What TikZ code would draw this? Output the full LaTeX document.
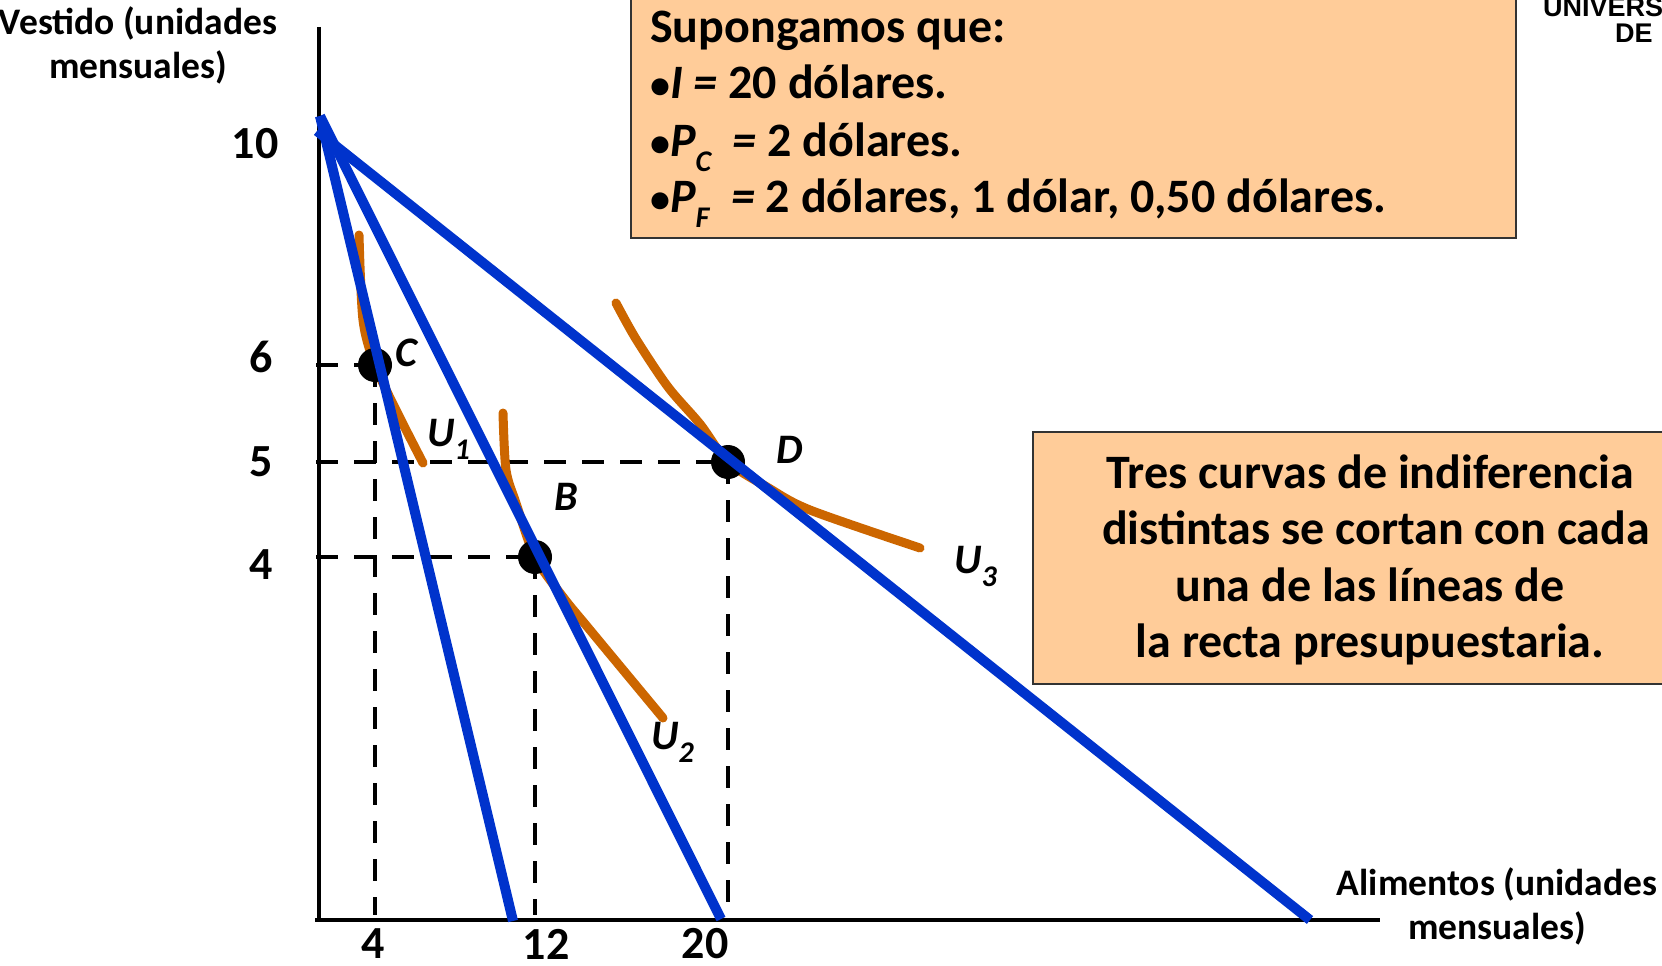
\documentclass[tikz,border=0pt]{standalone}
\usepackage{fontspec}
\setmainfont{Carlito}
\newfontfamily\logofont{Liberation Sans}
\definecolor{bblue}{HTML}{0033CC}
\definecolor{uorange}{HTML}{CC6600}
\definecolor{peach}{HTML}{FFCC99}
\newcommand\lowsub[1]{\raisebox{-0.32em}{\fontsize{30}{30}\selectfont #1}}
\newcommand\bul{{\fontsize{40}{40}\selectfont •}}
\begin{document}
\begin{tikzpicture}[x=1pt,y=-1pt,
  axisline/.style={line width=4.5pt},
  guide/.style={line width=4.5pt,dash pattern=on 22pt off 16pt},
  budget/.style={bblue,line width=10pt},
  icurve/.style={uorange,line width=9pt,line cap=round},
  dotpt/.style={circle,fill=black,minimum size=34pt,inner sep=0pt},
  ticklbl/.style={font=\fontsize{46}{55}\selectfont\bfseries,inner sep=0pt},
  ptlbl/.style={font=\fontsize{42}{50}\selectfont\bfseries\itshape,inner sep=0pt},
  axlbl/.style={font=\fontsize{37.5}{44}\selectfont\bfseries,align=center,inner sep=0pt},
  boxtext/.style={font=\fontsize{48}{57}\selectfont\bfseries,inner sep=0pt},
  logotext/.style={anchor=base west,inner sep=0pt,font=\logofont\bfseries\fontsize{27}{30}\selectfont},
  infobox/.style={draw=black!80,line width=2pt,fill=peach}
]
\useasboundingbox (0,0) rectangle (1662,966);
\clip (0,0) rectangle (1662,966);

% info boxes
\draw[infobox] (631,-5) rectangle (1516,238);
\draw[infobox] (1033,432) rectangle (1700,684);

% named points
\coordinate (O) at (319,920);
\coordinate (Ytop) at (319,27);
\coordinate (Xend) at (1380,920);
\coordinate (Xstart) at (315,920);
\coordinate (C) at (375,365);
\coordinate (B) at (535,557);
\coordinate (D) at (728,462);
\coordinate (topA) at (320,116);
\coordinate (topB) at (317,131);
\coordinate (end1) at (513,921);
\coordinate (end2) at (721,919);
\coordinate (end3) at (1310,920);

% axes
\draw[axisline] (Ytop) -- (O);
\draw[axisline] (Xstart) -- (Xend);

% guide lines
\draw[guide] (316,365) -- (C);
\draw[guide] (316,462) -- (D);
\draw[guide] (316,557) -- (B);
\draw[guide] (C) -- (375,915);
\draw[guide] (B) -- (535,915);
\draw[guide] (D) -- (728,915);

% indifference curves
\draw[icurve] plot[smooth,tension=0.5] coordinates {(359,235) (363,320) (375,365) (397,412) (423,463)};
\draw[icurve] plot[smooth,tension=0.5] coordinates {(503,413) (506,470) (516,503) (535,557) (563,597) (590,630) (663,718)};
\draw[icurve] plot[smooth,tension=0.5] coordinates {(616,303) (636,339) (668,387) (700,424) (728,462) (767,487) (810,510) (920,548)};

% points
\node[dotpt] (Cdot) at (C) {};
\node[dotpt] (Bdot) at (B) {};
\node[dotpt] (Ddot) at (D) {};

% budget lines
\draw[budget] (topA) -- (end1);
\draw[budget] (topA) -- (end2);
\draw[budget] (topB) -- (end3);

% tick labels
\node[ticklbl] (t10) at (255,144) {10};
\node[ticklbl] (t6) at (261,357) {6};
\node[ticklbl] (t5) at (261,462) {5};
\node[ticklbl] (t4) at (261,565) {4};
\node[ticklbl] (x4) at (373,944) {4};
\node[ticklbl] (x12) at (546,944) {12};
\node[ticklbl] (x20) at (705,944) {20};

% point labels
\node[ptlbl] (lC) at (406,353) {C};
\node[ptlbl] (lB) at (566,497) {B};
\node[ptlbl] (lD) at (790,450) {D};
\node[ptlbl,anchor=base west] (lU1) at (427,446) {U\lowsub{1}};
\node[ptlbl,anchor=base west] (lU2) at (651,749) {U\lowsub{2}};
\node[ptlbl,anchor=base west] (lU3) at (954,573) {U\lowsub{3}};

% axis labels
\node[axlbl] (ylab) at (138,45) {Vestido (unidades\\mensuales)};
\node[axlbl] (xlab) at (1497,906) {Alimentos (unidades\\mensuales)};

% top box text
\node[boxtext,anchor=base west] (s1) at (650,43) {Supongamos que:};
\node[boxtext,anchor=base west] (s2) at (650,99) {\bul\textit{I =} 20 dólares.};
\node[boxtext,anchor=base west] (s3) at (650,156) {\bul\textit{P\lowsub{C}\ \ =} 2 dólares.};
\node[boxtext,anchor=base west] (s4) at (650,212) {\bul\textit{P\lowsub{F}\ \ =} 2 dólares, 1 dólar, 0,50 dólares.};

% right box text
\node[boxtext,anchor=base] (r1) at (1370,488) {Tres curvas de indiferencia};
\node[boxtext,anchor=base] (r2) at (1376,544) {distintas se cortan con cada};
\node[boxtext,anchor=base] (r3) at (1370,601) {una de las líneas de};
\node[boxtext,anchor=base] (r4) at (1370,657) {la recta presupuestaria.};

% logo fragment
\node[logotext] (logo1) at (1543,17) {UNIVERS};
\node[logotext] (logo2) at (1615,43) {DE};
\end{tikzpicture}
\end{document}
